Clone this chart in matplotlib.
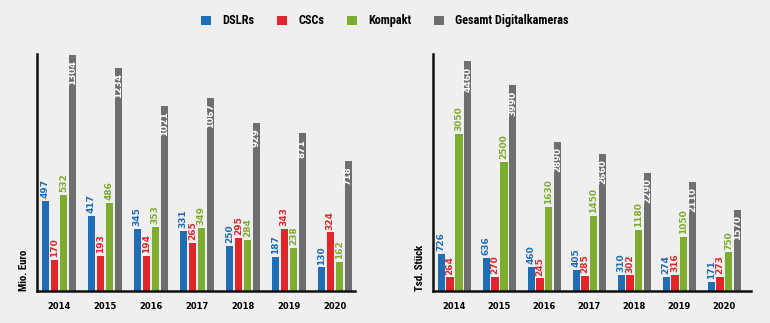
import numpy as np
import matplotlib.pyplot as plt
from matplotlib.patches import Patch

years = ["2014", "2015", "2016", "2017", "2018", "2019", "2020"]
series = ["DSLRs", "CSCs", "Kompakt", "Gesamt Digitalkameras"]

# Umsatz in Mio. Euro
revenue_dslr = [497, 417, 345, 331, 250, 187, 130]
revenue_csc = [170, 193, 194, 265, 295, 343, 324]
revenue_compact = [532, 486, 353, 349, 284, 238, 162]
revenue_total = [1304, 1234, 1021, 1067, 929, 871, 718]

# Stückzahlen in Tsd.
units_dslr = [726, 636, 460, 405, 310, 274, 171]
units_csc = [264, 270, 245, 285, 302, 316, 273]
units_compact = [3050, 2500, 1630, 1450, 1180, 1050, 750]
units_total = [4460, 3990, 2890, 2660, 2290, 2110, 1570]

colors = ["#1f6db5", "#e0262a", "#7dac2f", "#6e6e6e"]
bg = "#efefef"
narrow = ["Roboto Condensed", "Liberation Sans Narrow", "DejaVu Sans"]


def bar_group(ax, data, ymax, ylabel, xlim):
    x = np.arange(len(years))
    pitch = 0.196
    width = 0.16
    offsets = (np.arange(4) - 1.5) * pitch
    for vals, off, col in zip(data, offsets, colors):
        ax.bar(x + off, vals, width=width, color=col, zorder=2)
    # Werte: farbig über den Einzelbalken, weiß innen im Gesamt-Balken
    pad = ymax * 0.012
    for vals, off, col in zip(data[:3], offsets[:3], colors[:3]):
        for xi, v in zip(x, vals):
            ax.text(xi + off, v + pad, str(v), rotation=90, ha="center",
                    va="bottom", color=col, fontsize=6.5, fontweight="bold")
    for xi, v in zip(x, data[3]):
        ax.text(xi + offsets[3], v - ymax * 0.022, str(v), rotation=90,
                ha="center", va="top", color="white", fontsize=6.5,
                fontweight="bold")
    ax.set_xlim(*xlim)
    ax.set_ylim(0, ymax)
    ax.set_xticks(x)
    ax.set_xticklabels(years, fontsize=6, fontweight="bold")
    ax.tick_params(axis="x", length=0, pad=8)
    ax.set_yticks([])
    ax.set_facecolor(bg)
    for s in ["top", "right"]:
        ax.spines[s].set_visible(False)
    for s in ["left", "bottom"]:
        ax.spines[s].set_linewidth(1.8)
        ax.spines[s].set_color("#111111")
    ax.set_ylabel(ylabel, family=narrow, fontsize=7.8, fontweight="bold",
                  loc="bottom", labelpad=6)


fig = plt.figure(figsize=(7.7, 3.23), dpi=100, facecolor=bg)
ax1 = fig.add_axes([37 / 770, 32 / 323, 318 / 770, 237 / 323])
ax2 = fig.add_axes([433 / 770, 32 / 323, 318 / 770, 237 / 323])

bar_group(ax1, [revenue_dslr, revenue_csc, revenue_compact, revenue_total],
          1310, "Mio. Euro", (-0.476, 6.44))
bar_group(ax2, [units_dslr, units_csc, units_compact, units_total],
          4600, "Tsd. Stück", (-0.478, 6.59))

handles = [Patch(facecolor=c, edgecolor="none") for c in colors]
fig.legend(handles, series, loc="center", bbox_to_anchor=(0.5, 0.935),
           ncol=4, frameon=False, handlelength=0.8, handleheight=0.8,
           handletextpad=0.9, columnspacing=1.9,
           prop={"family": narrow, "size": 8.8, "weight": "bold"})

fig.savefig("out.png", dpi=100, facecolor=bg)
